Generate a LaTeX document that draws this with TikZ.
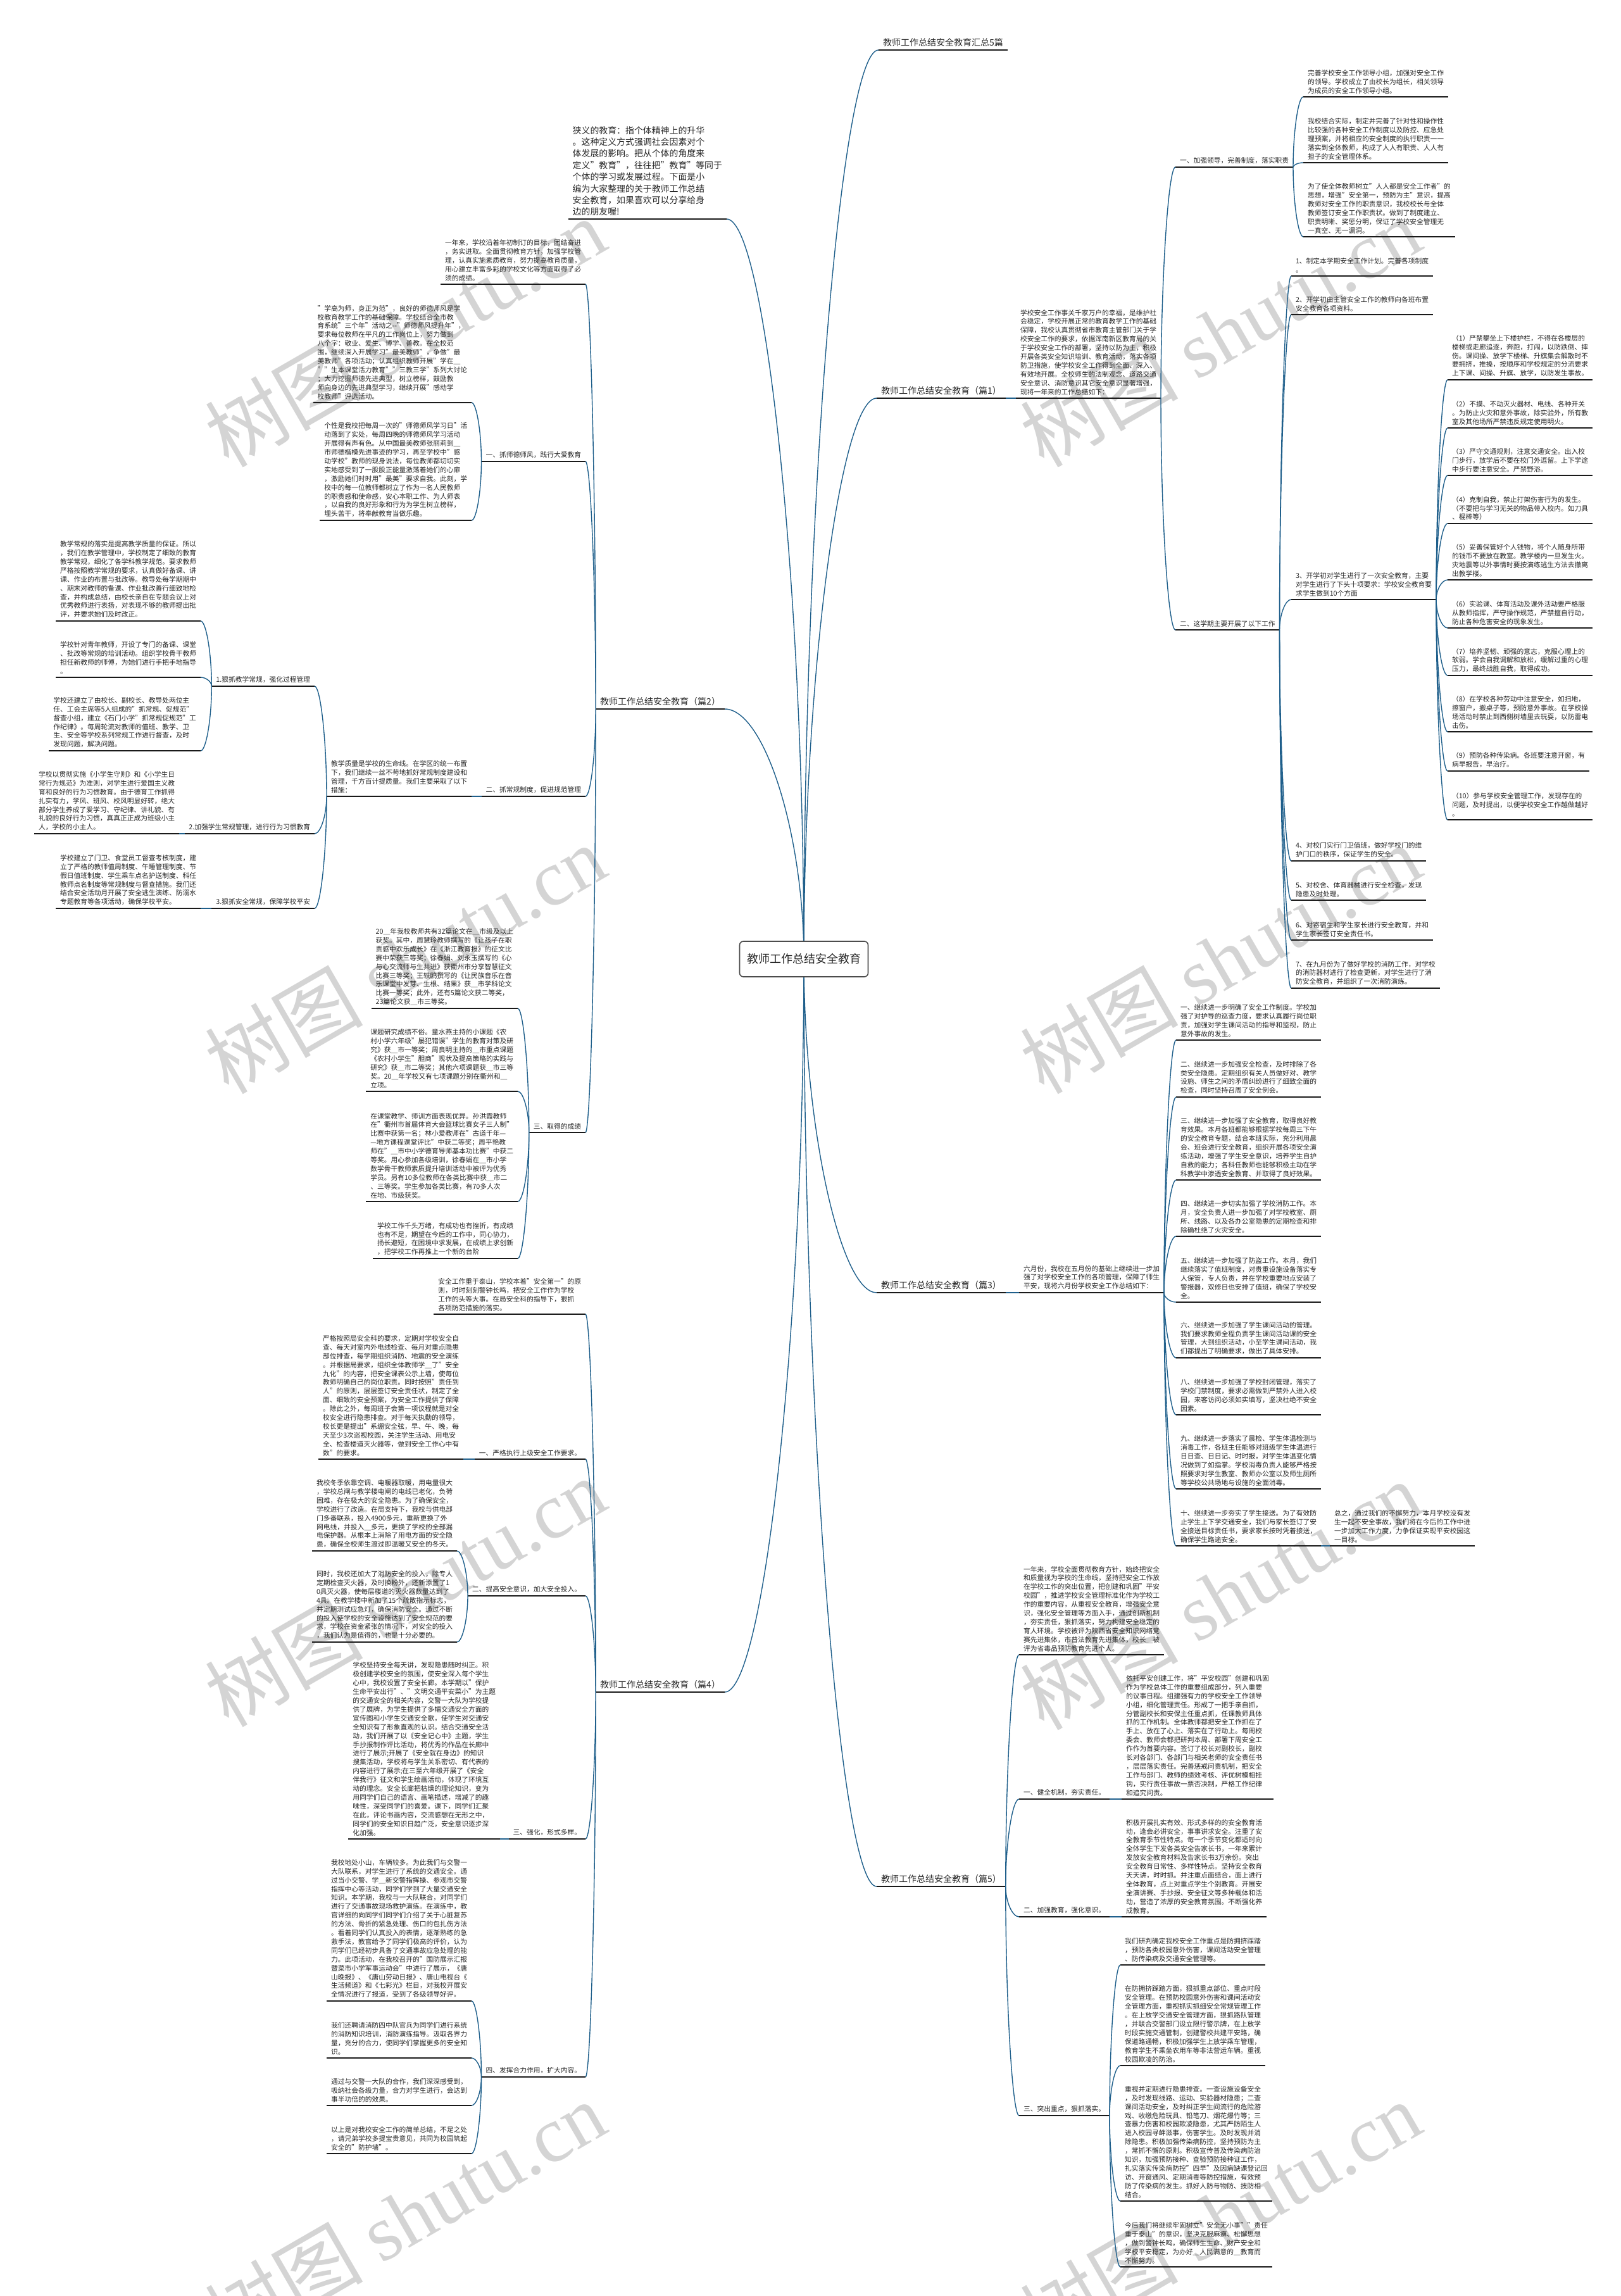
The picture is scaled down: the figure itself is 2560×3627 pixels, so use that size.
\documentclass[tikz,border=0pt]{standalone}
\usepackage{fontspec}
\setmainfont{Noto Sans CJK SC}
\newfontfamily\latinserif{Liberation Serif}
\usetikzlibrary{calc,backgrounds}
\definecolor{linkblue}{HTML}{1F5F8B}
\definecolor{inkgray}{HTML}{262626}

\begin{document}
\begin{tikzpicture}[x=1pt, y=-1pt, every node/.style={font=\fontsize{10.75}{13.9}\selectfont, text=inkgray, align=left, inner xsep=7pt, inner ysep=5pt, outer sep=0pt}, uline/.style={append after command={(\tikzlastnode.south west) edge[draw=black!90, line width=1.8pt] (\tikzlastnode.south east)}}, leaf/.style={uline, anchor=south west}, leafl/.style={uline, anchor=south east}, pian/.style={font=\fontsize{14}{18}\selectfont}, core/.style={draw=black!70, line width=1.6pt, rounded corners=6pt, fill=white, font=\fontsize{18}{22}\selectfont, minimum width=203pt, minimum height=56pt}, branch/.style={draw=linkblue, line width=1.4pt, to path={let \p1=(\tikztostart), \p2=(\tikztotarget) in .. controls (\x1,{0.5*\y1+0.5*\y2}) and ({0.5*\x1+0.5*\x2},\y2) .. (\tikztotarget)}}, wmark/.style={text=black!17, font=\fontsize{125}{125}\selectfont, rotate=30, inner sep=0pt}]
\useasboundingbox (0,0) rectangle (2560,3627);
\node[wmark] (wm1) at (640,525) {树图 {\latinserif shutu.cn}};
\node[wmark] (wm2) at (1928,525) {树图 {\latinserif shutu.cn}};
\node[wmark] (wm3) at (640,1515) {树图 {\latinserif shutu.cn}};
\node[wmark] (wm4) at (1928,1515) {树图 {\latinserif shutu.cn}};
\node[wmark] (wm5) at (640,2515) {树图 {\latinserif shutu.cn}};
\node[wmark] (wm6) at (1928,2520) {树图 {\latinserif shutu.cn}};
\node[wmark] (wm7) at (640,3500) {树图 {\latinserif shutu.cn}};
\node[wmark] (wm8) at (1928,3500) {树图 {\latinserif shutu.cn}};

\node[core] (root) at (1270,1515) {教师工作总结安全教育};

\node[leaf, pian] (title) at (1388,79) {教师工作总结安全教育汇总5篇};
\node[leafl, font=\fontsize{13.9}{18.4}\selectfont] (intro) at (1148,346) {狭义的教育：指个体精神上的升华\\。这种定义方式强调社会因素对个\\体发展的影响。把从个体的角度来\\定义"教育"，往往把"教育"等同于\\个体的学习或发展过程。下面是小\\编为大家整理的关于教师工作总结\\安全教育，如果喜欢可以分享给身\\边的朋友喔!};

\node[leaf, pian] (pian1) at (1385,629) {教师工作总结安全教育（篇1）};
\node[leaf] (note1) at (1605,629) {学校安全工作事关千家万户的幸福，是维护社\\会稳定，学校开展正常的教育教学工作的基础\\保障，我校认真贯彻省市教育主管部门关于学\\校安全工作的要求，依据浑南新区教育局的关\\于学校安全工作的部署，坚持以防为主，积极\\开展各类安全知识培训、教育活动，落实各项\\防卫措施，使学校安全工作得到全面、深入、\\有效地开展。全校师生的法制观念、道路交通\\安全意识、消防意识其它安全意识显著增强，\\现将一年来的工作总结如下：};
\node[leaf] (lead) at (1857,264) {一、加强领导，完善制度，落实职责};
\node[leaf] (lead1) at (2059,153) {完善学校安全工作领导小组，加强对安全工作\\的领导。学校成立了由校长为组长，相关领导\\为成员的安全工作领导小组。};
\node[leaf] (lead2) at (2059,257) {我校结合实际，制定并完善了针对性和操作性\\比较强的各种安全工作制度以及防控、应急处\\理预案，并将相应的安全制度的执行职责一一\\落实到全体教师，构成了人人有职责、人人有\\担子的安全管理体系。};
\node[leaf] (lead3) at (2059,374) {为了使全体教师树立"人人都是安全工作者"的\\思想，增强"安全第一，预防为主"意识，提高\\教师对安全工作的职责意识，我校校长与全体\\教师签订安全工作职责状。做到了制度建立、\\职责明晰、奖惩分明，保证了学校安全管理无\\一真空、无一漏洞。};
\node[leaf] (work) at (1857,995) {二、这学期主要开展了以下工作};
\node[leaf] (work1) at (2040,436) {1、制定本学期安全工作计划。完善各项制度\\。};
\node[leaf] (work2) at (2040,497) {2、开学初由主管安全工作的教师向各班布置\\安全教育各项资料。};
\node[leaf] (work3) at (2040,947) {3、开学初对学生进行了一次安全教育，主要\\对学生进行了下头十项要求：学校安全教育要\\求学生做到10个方面};
\node[leaf] (work4) at (2040,1360) {4、对校门实行门卫值班，做好学校门的维\\护门口的秩序，保证学生的安全。};
\node[leaf] (work5) at (2040,1422) {5、对校舍、体育器械进行安全检查，发现\\隐患及时处理。};
\node[leaf] (work6) at (2040,1485) {6、对寄宿生和学生家长进行安全教育，并和\\学生家长签订安全责任书。};
\node[leaf] (work7) at (2040,1561) {7、在九月份为了做好学校的消防工作，对学校\\的消防器材进行了检查更新，对学生进行了消\\防安全教育，并组织了一次消防演练。};
\node[leaf] (req1) at (2287,600) {（1）严禁攀坐上下楼护栏，不得在各楼层的\\楼梯或走廊追逐，奔跑，打闹，以防跌倒、摔\\伤。课间操、放学下楼梯、升旗集会解散时不\\要拥挤，推搡，按顺序和学校规定的分流要求\\上下课、间操、升旗、放学，以防发生事故。};
\node[leaf] (req2) at (2287,676) {（2）不摸、不动灭火器材、电线、各种开关\\。为防止火灾和意外事故，除实验外，所有教\\室及其他场所严禁违反规定使用明火。};
\node[leaf] (req3) at (2287,751) {（3）严守交通规则，注意交通安全。出入校\\门步行，放学后不要在校门外逗留。上下学途\\中步行要注意安全。严禁野浴。};
\node[leaf] (req4) at (2287,827) {（4）克制自我，禁止打架伤害行为的发生。\\（不要把与学习无关的物品带入校内。如刀具\\、棍棒等）};
\node[leaf] (req5) at (2287,916) {（5）妥善保管好个人钱物，将个人随身所带\\的钱币不要放在教室。教学楼内一旦发生火。\\灾地震等以外事情时要按演练逃生方法去撤离\\出教学楼。};
\node[leaf] (req6) at (2287,992) {（6）实验课、体育活动及课外活动要严格服\\从教师指挥，严守操作规范，严禁擅自行动，\\防止各种危害安全的现象发生。};
\node[leaf] (req7) at (2287,1067) {（7）培养坚韧、顽强的意志，克服心理上的\\软弱。学会自我调解和放松，缓解过重的心理\\压力，最终战胜自我，取得成功。};
\node[leaf] (req8) at (2287,1156) {（8）在学校各种劳动中注意安全，如扫地，\\擦窗户，搬桌子等，预防意外事故。在学校操\\场活动时禁止到西侧树墙里去玩耍，以防雷电\\击伤。};
\node[leaf] (req9) at (2287,1218) {（9）预防各种传染病。各班要注意开窗，有\\病早报告，早治疗。};
\node[leaf] (req10) at (2287,1295) {（10）参与学校安全管理工作，发现存在的\\问题，及时提出，以便学校安全工作越做越好\\。};

\node[leafl, pian] (pian2) at (1145,1120) {教师工作总结安全教育（篇2）};
\node[leafl] (note2) at (925,449) {一年来，学校沿着年初制订的目标，团结奋进\\，务实进取。全面贯彻教育方针，加强学校管\\理，认真实施素质教育，努力提高教育质量，\\用心建立丰富多彩的学校文化等方面取得了必\\须的成绩。};
\node[leafl] (ethic) at (925,729) {一、抓师德师风，践行大爱教育};
\node[leafl] (ethic1) at (745,636) {"学高为师，身正为范"，良好的师德师风是学\\校教育教学工作的基础保障。学校结合全市教\\育系统"三个年"活动之-{}-"师德师风提升年"，\\要求每位教师在平凡的工作岗位上，努力做到\\八个字：敬业、爱生、博学、善教。在全校范\\围，继续深入开展学习"最美教师"，争做"最\\美教师"各项活动；认真组织教师开展"学在＿\\""生本课堂活力教育""三教三学"系列大讨论\\；大力挖掘师德先进典型，树立榜样，鼓励教\\师向身边的先进典型学习，继续开展"感动学\\校教师"评选活动。};
\node[leafl] (ethic2) at (745,822) {个性是我校把每周一次的"师德师风学习日"活\\动落到了实处，每周四晚的师德师风学习活动\\开展得有声有色。从中国最美教师张丽莉到＿\\市师德楷模先进事迹的学习，再至学校中"感\\动学校"教师的现身说法，每位教师都切切实\\实地感受到了一股股正能量激荡着她们的心扉\\，激励她们时时用"最美"要求自我。此刻，学\\校中的每一位教师都树立了作为一名人民教师\\的职责感和使命感，安心本职工作、为人师表\\，以自我的良好形象和行为为学生树立榜样，\\埋头苦干，将奉献教育当做乐趣。};
\node[leafl] (norm) at (925,1258) {二、抓常规制度，促进规范管理};
\node[leafl] (normnote) at (745,1258) {教学质量是学校的生命线。在学区的统一布置\\下，我们继续一丝不苟地抓好常规制度建设和\\管理，千方百计提质量。我们主要采取了以下\\措施：};
\node[leafl] (teach) at (497,1084) {1.狠抓教学常规，强化过程管理};
\node[leafl] (teach1) at (317,981) {教学常规的落实是提高教学质量的保证。所以\\，我们在教学管理中，学校制定了细致的教育\\教学常规，细化了各学科教学规范。要求教师\\严格按照教学常规的要求，认真做好备课、讲\\课、作业的布置与批改等。教导处每学期期中\\、期末对教师的备课、作业批改善行细致地检\\查，并构成总结，由校长亲自在专题会议上对\\优秀教师进行表扬，对表现不够的教师提出批\\评，并要求她们及时改正。};
\node[leafl] (teach2) at (317,1070) {学校针对青年教师，开设了专门的备课、课堂\\、批改等常规的培训活动。组织学校骨干教师\\担任新教师的师傅，为她们进行手把手地指导\\。};
\node[leafl] (teach3) at (317,1186) {学校还建立了由校长、副校长、教导处两位主\\任、工会主席等5人组成的"抓常规、促规范"\\督查小组，建立《石门小学"抓常规促规范"工\\作纪律》。每周轮流对教师的值班、教学、卫\\生、安全等学校系列常规工作进行督查，及时\\发现问题，解决问题。};
\node[leafl] (habit) at (497,1317) {2.加强学生常规管理，进行行为习惯教育};
\node[leafl] (habit1) at (283,1317) {学校以贯彻实施《小学生守则》和《小学生日\\常行为规范》为准则，对学生进行爱国主义教\\育和良好的行为习惯教育。由于德育工作抓得\\扎实有力，学风、班风、校风明显好转，绝大\\部分学生养成了爱学习、守纪律、讲礼貌、有\\礼貌的良好行为习惯，真真正正成为班级小主\\人，学校的小主人。};
\node[leafl] (guard) at (497,1435) {3.狠抓安全常规，保障学校平安};
\node[leafl] (guard1) at (317,1435) {学校建立了门卫、食堂员工督查考核制度，建\\立了严格的教师值周制度、午睡管理制度、节\\假日值班制度、学生乘车点名护送制度、科任\\教师点名制度等常规制度与督查措施。我们还\\结合安全活动月开展了安全逃生演练、防溺水\\专题教育等各项活动，确保学校平安。};
\node[leafl] (gain) at (925,1789) {三、取得的成绩};
\node[leafl] (gain1) at (818,1593) {20＿年我校教师共有32篇论文在＿市级及以上\\获奖。其中，周慧玲教师撰写的《让孩子在职\\责感中欢乐成长》在《浙江教育报》的征文比\\赛中荣获三等奖；徐春娟、刘永玉撰写的《心\\与心交流师与生共进》获衢州市分享智慧征文\\比赛三等奖；王轶鸥撰写的《让民族音乐在音\\乐课堂中发芽、生根、结果》获＿市学科论文\\比赛一等奖；此外，还有5篇论文获二等奖，\\23篇论文获＿市三等奖。};
\node[leafl] (gain2) at (818,1724) {课题研究成绩不俗。童水燕主持的小课题《农\\村小学六年级"屡犯错误"学生的教育对策及研\\究》获＿市一等奖；周良明主持的＿市重点课题\\《农村小学生"胆商"现状及提高策略的实践与\\研究》获＿市二等奖；其他六项课题获＿市三等\\奖。20＿年学校又有七项课题分别在衢州和＿\\立项。};
\node[leafl] (gain3) at (818,1898) {在课堂教学、师训方面表现优异。孙洪霞教师\\在"衢州市首届体育大会篮球比赛女子三人制"\\比赛中获第一名；林小爱教师在"古道千年—\\—地方课程课堂评比"中获二等奖；周平艳教\\师在"＿市中小学德育导师基本功比赛"中获二\\等奖。用心参加各级培训，徐春娟在＿市小学\\数学骨干教师素质提升培训活动中被评为优秀\\学员。另有10多位教师在各类比赛中获＿市二\\、三等奖。学生参加各类比赛，有70多人次\\在地、市级获奖。};
\node[leafl] (gain4) at (818,1988) {学校工作千头万绪，有成功也有挫折，有成绩\\也有不足，期望在今后的工作中，同心协力，\\扬长避短，在困境中求发展，在成绩上求创新\\，把学校工作再推上一个新的台阶};

\node[leaf, pian] (pian3) at (1385,2042) {教师工作总结安全教育（篇3）};
\node[leaf] (note3) at (1610,2042) {六月份，我校在五月份的基础上继续进一步加\\强了对学校安全工作的各项管理，保障了师生\\平安，现将六月份学校安全工作总结如下：};
\node[leaf] (june1) at (1858,1643) {一、继续进一步明确了安全工作制度。学校加\\强了对护导的巡查力度，要求认真履行岗位职\\责，加强对学生课间活动的指导和监视，防止\\意外事故的发生。};
\node[leaf] (june2) at (1858,1733) {二、继续进一步加强安全检查，及时排除了各\\类安全隐患。定期组织有关人员做好对、教学\\设施、师生之间的矛盾纠纷进行了细致全面的\\检查，同时坚持召周了安全例会。};
\node[leaf] (june3) at (1858,1864) {三、继续进一步加强了安全教育，取得良好教\\育效果。本月各班都能够根据学校每周三下午\\的安全教育专题，结合本班实际，充分利用晨\\会、班会进行安全教育，组织开展各项安全演\\练活动，增强了学生安全意识，培养学生自护\\自救的能力；各科任教师也能够积极主动在学\\科教学中渗透安全教育、并取得了良好效果。};
\node[leaf] (june4) at (1858,1953) {四、继续进一步切实加强了学校消防工作。本\\月，安全负责人进一步加强了对学校教室、厕\\所、线路、以及各办公室隐患的定期检查和排\\除确杜绝了火灾安全。};
\node[leaf] (june5) at (1858,2057) {五、继续进一步加强了防盗工作。本月，我们\\继续落实了值班制度，对贵重设施设备落实专\\人保管，专人负责，并在学校重要地点安装了\\警报器，双修日也安排了值班，确保了学校安\\全。};
\node[leaf] (june6) at (1858,2145) {六、继续进一步加强了学生课间活动的管理。\\我们要求教师全程负责学生课间活动课的安全\\管理，大到组织活动，小至学生课间活动，我\\们都提出了明确要求，做出了具体安排。};
\node[leaf] (june8) at (1858,2235) {八、继续进一步加强了学校封闭管理，落实了\\学校门禁制度，要求必需做到严禁外人进入校\\园，来客访问必须如实填写，坚决杜绝不安全\\因素。};
\node[leaf] (june9) at (1858,2352) {九、继续进一步落实了晨检、学生体温检测与\\消毒工作，各班主任能够对班级学生体温进行\\日日查、日日记、时时报，对学生体温变化情\\况做到了如指掌。学校消毒负责人能够严格按\\照要求对学生教室、教师办公室以及师生厕所\\等学校公共场地与设施的全面消毒。};
\node[leaf] (june10) at (1858,2442) {十、继续进一步夯实了学生接送。为了有效防\\止学生上下学交通安全，我们与家长签订了安\\全接送目标责任书，要求家长按时凭着接送，\\确保学生路途安全。};
\node[leaf] (june11) at (2101,2442) {总之，通过我们的不懈努力，本月学校没有发\\生一起不安全事故，我们将在今后的工作中进\\一步加大工作力度，力争保证实现平安校园这\\一目标。};

\node[leafl, pian] (pian4) at (1145,2673) {教师工作总结安全教育（篇4）};
\node[leafl] (note4) at (925,2076) {安全工作重于泰山，学校本着"安全第一"的原\\则，时时刻刻警钟长鸣，把安全工作作为学校\\工作的头等大事。在局安全科的指导下，狠抓\\各项防范措施的落实。};
\node[leafl] (duty) at (925,2305) {一、严格执行上级安全工作要求。};
\node[leafl] (duty1) at (732,2305) {严格按照局安全科的要求，定期对学校安全自\\查、每天对室内外电线检查、每月对重点隐患\\部位排查，每学期组织消防、地震的安全演练\\。并根据局要求，组织全体教师学＿了"安全\\九化"的内容，把安全课表公示上墙，使每位\\教师明确自己的岗位职责。同时按照"责任到\\人"的原则，层层签订安全责任状，制定了全\\面、细致的安全预案，为安全工作提供了保障\\。除此之外，每周班子会第一项议程就是对全\\校安全进行隐患排查。对于每天执勤的领导，\\校长更是提出"系绷安全弦，早、午、晚，每\\天至少3次巡视校园，关注学生活动、用电安\\全、检查楼道灭火器等，做到安全工作心中有\\数"的要求。};
\node[leafl] (invest) at (925,2521) {二、提高安全意识，加大安全投入。};
\node[leafl] (invest1) at (722,2450) {我校冬季依靠空调、电暖器取暖，用电量很大\\，学校总闸与教学楼电闸的电线已老化，负荷\\困难，存在极大的安全隐患。为了确保安全，\\学校进行了改造。在局支持下，我校与供电部\\门多番联系，投入4900多元，重新更换了外\\网电线，并投入＿多元，更换了学校的全部漏\\电保护器。从根本上消除了用电方面的安全隐\\患，确保全校师生渡过即温暖又安全的冬天。};
\node[leafl] (invest2) at (722,2594) {同时，我校还加大了消防安全的投入，除专人\\定期检查灭火器，及时换粉外，还新添置了1\\0具灭火器，使每层楼道的灭火器数量达到了\\4具。在教学楼中新加了15个疏散指示标志，\\并定期测试应急灯，确保消防安全。通过不断\\的投入使学校的安全设施达到了安全规范的要\\求，学校在资金紧张的情况下，对安全的投入\\，我们认为是值得的，也是十分必要的。};
\node[leafl] (form) at (925,2905) {三、强化，形式多样。};
\node[leafl] (form1) at (790,2905) {学校坚持安全每天讲，发现隐患随时纠正。积\\极创建学校安全的氛围，使安全深入每个学生\\心中，我校设置了安全长廊。本学期以"保护\\生命平安出行"、"文明交通平安菜小"为主题\\的交通安全的相关内容，交警一大队为学校提\\供了展牌，为学生提供了多幅交通安全方面的\\宣传图和小学生交通安全歌，使学生对交通安\\全知识有了形象直观的认识。结合交通安全活\\动，我们开展了以《安全记心中》主题，学生\\手抄报制作评比活动，将优秀的作品在长廊中\\进行了展示;开展了《安全就在身边》的知识\\搜集活动，学校将与学生关系密切、有代表的\\内容进行了展示;在三至六年级开展了《安全\\伴我行》征文和学生绘画活动，体现了环境互\\动的理念。安全长廊把枯燥的理论知识，变为\\用同学们自己的语言、画笔描述，增减了的趣\\味性，深受同学们的喜爱。课下，同学们汇聚\\在此，评论书画内容，交流感想在无形之中，\\同学们的安全知识日趋广泛，安全意识逐步深\\化加强。};
\node[leafl] (joint) at (925,3281) {四、发挥合力作用，扩大内容。};
\node[leafl] (joint1) at (745,3161) {我校地处小山，车辆较多。为此我们与交警一\\大队联系，对学生进行了系统的交通安全。通\\过当小交警、学＿新交警指挥操、参观市交警\\指挥中心等活动，同学们学到了大量交通安全\\知识。本学期，我校与一大队联合，对同学们\\进行了交通事故现场救护演练。在演练中，教\\官详细的向同学们同学们介绍了关于心脏复苏\\的方法、骨折的紧急处理、伤口的包扎伤方法\\。看着同学们认真投入的表情，逐渐熟练的急\\救手法，教官给予了同学们极高的评价，认为\\同学们已经初步具备了交通事故应急处理的能\\力。此项活动，在我校召开的"国防展示汇报\\暨菜市小学军事运动会"中进行了展示，《唐\\山晚报》、《唐山劳动日报》、唐山电视台《\\生活频道》和《七彩光》栏目，对我校开展安\\全情况进行了报道，受到了各级领导好评。};
\node[leafl] (joint2) at (745,3251) {我们还聘请消防四中队官兵为同学们进行系统\\的消防知识培训，消防演练指导。汲取各界力\\量，充分的合力，使同学们掌握更多的安全知\\识。};
\node[leafl] (joint3) at (745,3326) {通过与交警一大队的合作，我们深深感受到，\\吸纳社会各级力量，合力对学生进行，会达到\\事半功倍的的效果。};
\node[leafl] (joint4) at (745,3402) {以上是对我校安全工作的简单总结，不足之处\\，请兄弟学校多提宝贵意见，共同为校园筑起\\安全的"防护墙"。};

\node[leaf, pian] (pian5) at (1385,2980) {教师工作总结安全教育（篇5）};
\node[leaf] (note5) at (1610,2614) {一年来，学校全面贯彻教育方针，始终把安全\\和质量视为学校的生命线，坚持把安全工作放\\在学校工作的突出位置，把创建和巩固"平安\\校园"，推进学校安全管理标准化作为学校工\\作的重要内容，从重视安全教育，增强安全意\\识，强化安全管理等方面入手，通过创新机制\\，夯实责任，狠抓落实，努力构建安全稳定的\\育人环境。学校被评为陕西省安全知识网络竞\\赛先进集体，市普法教育先进集体，校长＿被\\评为省毒品预防教育先进个人。};
\node[leaf] (mech) at (1610,2842) {一、健全机制，夯实责任。};
\node[leaf] (mech1) at (1772,2842) {依托平安创建工作，将"平安校园"创建和巩固\\作为学校总体工作的重要组成部分，列入重要\\的议事日程。组建强有力的学校安全工作领导\\小组，细化管理责任。形成了一把手亲自抓，\\分管副校长和安保主任重点抓，任课教师具体\\抓的工作机制。全体教师都把安全工作抓在了\\手上、放在了心上、落实在了行动上。每周校\\委会、教师会都把研判本周、部署下周安全工\\作作为首要内容。签订了校长对副校长，副校\\长对各部门、各部门与相关老师的安全责任书\\，层层落实责任。完善惩戒问责机制，把安全\\工作与部门、教师的绩效考核、评优树模相挂\\钩，实行责任事故一票否决制，严格工作纪律\\和追究问责。};
\node[leaf] (edu) at (1610,3028) {二、加强教育，强化意识。};
\node[leaf] (edu1) at (1772,3028) {积极开展扎实有效、形式多样的的安全教育活\\动，逢会必讲安全，事事讲求安全。注重了安\\全教育季节性特点。每一个季节变化都适时向\\全体学生下发各类安全告家长书，一年来累计\\发放安全教育材料及告家长书3万余份。突出\\安全教育日常性、多样性特点。坚持安全教育\\天天讲，时时抓。并注重点面结合，面上进行\\全体教育，点上对重点学生个别教育。开展安\\全演讲赛、手抄报、安全征文等多种载体和活\\动，营造了浓厚的安全教育氛围。不断强化养\\成教育。};
\node[leaf] (focus) at (1610,3342) {三、突出重点，狠抓落实。};
\node[leaf] (focus1) at (1770,3104) {我们研判确定我校安全工作重点是防拥挤踩踏\\，预防各类校园意外伤害，课间活动安全管理\\、防传染病及交通安全管理等。};
\node[leaf] (focus2) at (1770,3263) {在防拥挤踩踏方面，狠抓重点部位、重点时段\\安全管理。在预防校园意外伤害和课间活动安\\全管理方面，重视抓实抓细安全常规管理工作\\。在上放学交通安全管理方面，狠抓路队管理\\，并联合交警部门设立限行警示牌，在上放学\\时段实施交通管制，创建警校共建平安路，确\\保道路通畅，积极加强学生上放学乘车管理，\\教育学生不乘坐农用车等非法营运车辆。重视\\校园欺凌的防治。};
\node[leaf] (focus3) at (1770,3477) {重视并定期进行隐患排查。一查设施设备安全\\，及时发现线路、运动、实验器材隐患；二查\\课间活动安全，及时纠正学生间流行的危险游\\戏、收缴危险玩具、铅笔刀、烟花爆竹等；三\\查暴力伤害和校园欺凌隐患，尤其严防陌生人\\进入校园寻衅滋事，伤害学生。及时发现并消\\除隐患。积极加强传染病防控，坚持预防为主\\，常抓不懈的原则。积极宣传普及传染病防治\\知识，加强预防接种、查验预防接种证工作，\\扎实落实传染病防控"四早"及因病缺课登记回\\访、开窗通风、定期消毒等防控措施，有效预\\防了传染病的发生。抓好人防与物防、技防相\\结合。};
\node[leaf] (focus4) at (1770,3581) {今后我们将继续牢固树立"安全无小事""责任\\重于泰山"的意识，坚决克服麻痹、松懈思想\\，做到警钟长鸣，确保师生生命、财产安全和\\学校平安稳定，为办好＿人民满意的＿教育而\\不懈努力。};

\begin{scope}[on background layer]
\path (root.center) edge[branch] (title.south west) edge[branch] (pian1.south west) edge[branch] (pian3.south west) edge[branch] (pian5.south west) edge[branch] (intro.south east) edge[branch] (pian2.south east) edge[branch] (pian4.south east);
\end{scope}
\path (pian1.south east) edge[branch] (note1.south west);
\path (note1.south east) edge[branch] (lead.south west) edge[branch] (work.south west);
\path (lead.south east) edge[branch] (lead1.south west) edge[branch] (lead2.south west) edge[branch] (lead3.south west);
\path (work.south east) edge[branch] (work1.south west) edge[branch] (work2.south west) edge[branch] (work3.south west) edge[branch] (work4.south west) edge[branch] (work5.south west) edge[branch] (work6.south west) edge[branch] (work7.south west);
\path (work3.south east) edge[branch] (req1.south west) edge[branch] (req2.south west) edge[branch] (req3.south west) edge[branch] (req4.south west) edge[branch] (req5.south west) edge[branch] (req6.south west) edge[branch] (req7.south west) edge[branch] (req8.south west) edge[branch] (req9.south west) edge[branch] (req10.south west);
\path (pian2.south west) edge[branch] (note2.south east) edge[branch] (ethic.south east) edge[branch] (norm.south east) edge[branch] (gain.south east);
\path (ethic.south west) edge[branch] (ethic1.south east) edge[branch] (ethic2.south east);
\path (norm.south west) edge[branch] (normnote.south east);
\path (normnote.south west) edge[branch] (teach.south east) edge[branch] (habit.south east) edge[branch] (guard.south east);
\path (teach.south west) edge[branch] (teach1.south east) edge[branch] (teach2.south east) edge[branch] (teach3.south east);
\path (habit.south west) edge[branch] (habit1.south east);
\path (guard.south west) edge[branch] (guard1.south east);
\path (gain.south west) edge[branch] (gain1.south east) edge[branch] (gain2.south east) edge[branch] (gain3.south east) edge[branch] (gain4.south east);
\path (pian3.south east) edge[branch] (note3.south west);
\path (note3.south east) edge[branch] (june1.south west) edge[branch] (june2.south west) edge[branch] (june3.south west) edge[branch] (june4.south west) edge[branch] (june5.south west) edge[branch] (june6.south west) edge[branch] (june8.south west) edge[branch] (june9.south west) edge[branch] (june10.south west);
\path (june10.south east) edge[branch] (june11.south west);
\path (pian4.south west) edge[branch] (note4.south east) edge[branch] (duty.south east) edge[branch] (invest.south east) edge[branch] (form.south east) edge[branch] (joint.south east);
\path (duty.south west) edge[branch] (duty1.south east);
\path (invest.south west) edge[branch] (invest1.south east) edge[branch] (invest2.south east);
\path (form.south west) edge[branch] (form1.south east);
\path (joint.south west) edge[branch] (joint1.south east) edge[branch] (joint2.south east) edge[branch] (joint3.south east) edge[branch] (joint4.south east);
\path (pian5.south east) edge[branch] (note5.south west) edge[branch] (mech.south west) edge[branch] (edu.south west) edge[branch] (focus.south west);
\path (mech.south east) edge[branch] (mech1.south west);
\path (edu.south east) edge[branch] (edu1.south west);
\path (focus.south east) edge[branch] (focus1.south west) edge[branch] (focus2.south west) edge[branch] (focus3.south west) edge[branch] (focus4.south west);
\end{tikzpicture}
\end{document}
